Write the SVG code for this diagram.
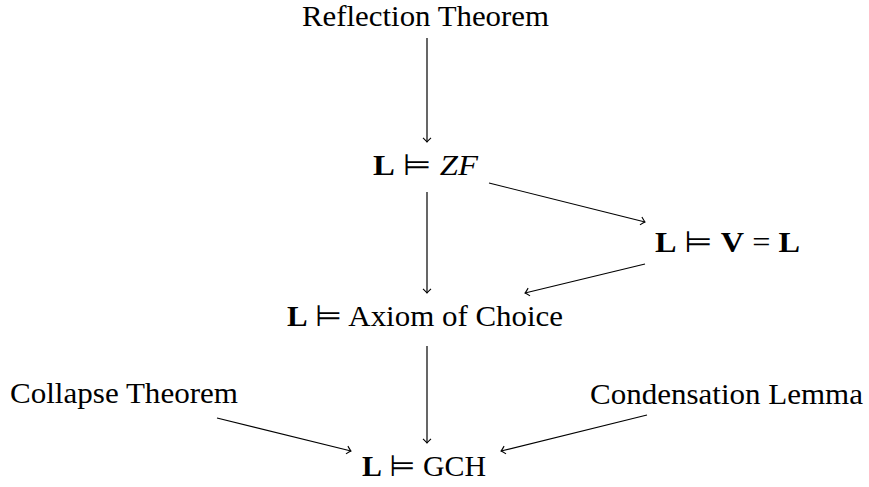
<svg xmlns="http://www.w3.org/2000/svg" width="869" height="487" viewBox="0 0 869 487">
<style>
text{font-family:"Liberation Serif","DejaVu Serif",serif;font-size:29.5px;fill:#000}
.b{font-weight:bold}
.i{font-style:italic}
.rel{font-family:"DejaVu Sans","DejaVu Serif",sans-serif;font-weight:normal}
.edge{stroke:#000;stroke-width:1.2;fill:none;marker-end:url(#to)}
</style>
<defs>
<marker id="to" markerUnits="userSpaceOnUse" markerWidth="12" markerHeight="12" viewBox="-6 -6 12 12" refX="0" refY="0" orient="auto" overflow="visible">
<path d="M -4.2 -4 Q -1.4 -1 0 0 Q -1.4 1 -4.2 4" fill="none" stroke="#000" stroke-width="1.1"/>
</marker>
</defs>
<rect width="869" height="487" fill="#fff"/>
<g id="edges">
<line class="edge" x1="427" y1="38" x2="427" y2="142"/>
<line class="edge" x1="427" y1="192" x2="427" y2="293"/>
<line class="edge" x1="427" y1="346" x2="427" y2="443"/>
<line class="edge" x1="489" y1="183" x2="645" y2="222"/>
<line class="edge" x1="645" y1="264" x2="525" y2="293"/>
<line class="edge" x1="217" y1="418" x2="351" y2="451"/>
<line class="edge" x1="647" y1="415" x2="501" y2="451"/>
</g>
<g id="reflection"><text x="302" y="26" textLength="247" lengthAdjust="spacingAndGlyphs">Reflection Theorem</text></g>
<g id="zf"><text x="373" y="175" textLength="105" lengthAdjust="spacingAndGlyphs"><tspan class="b">L</tspan> <tspan class="rel">⊨</tspan> <tspan class="i">ZF</tspan></text></g>
<g id="vl"><text x="655" y="252" textLength="145" lengthAdjust="spacingAndGlyphs"><tspan class="b">L</tspan> <tspan class="rel">⊨</tspan> <tspan class="b">V</tspan> = <tspan class="b">L</tspan></text></g>
<g id="ac"><text x="287" y="326" textLength="276" lengthAdjust="spacingAndGlyphs"><tspan class="b">L</tspan> <tspan class="rel">⊨</tspan> Axiom of Choice</text></g>
<g id="collapse"><text x="10" y="403" textLength="228" lengthAdjust="spacingAndGlyphs">Collapse Theorem</text></g>
<g id="condensation"><text x="590" y="404" textLength="273" lengthAdjust="spacingAndGlyphs">Condensation Lemma</text></g>
<g id="gch"><text x="362" y="476" textLength="124" lengthAdjust="spacingAndGlyphs"><tspan class="b">L</tspan> <tspan class="rel">⊨</tspan> GCH</text></g>
</svg>
